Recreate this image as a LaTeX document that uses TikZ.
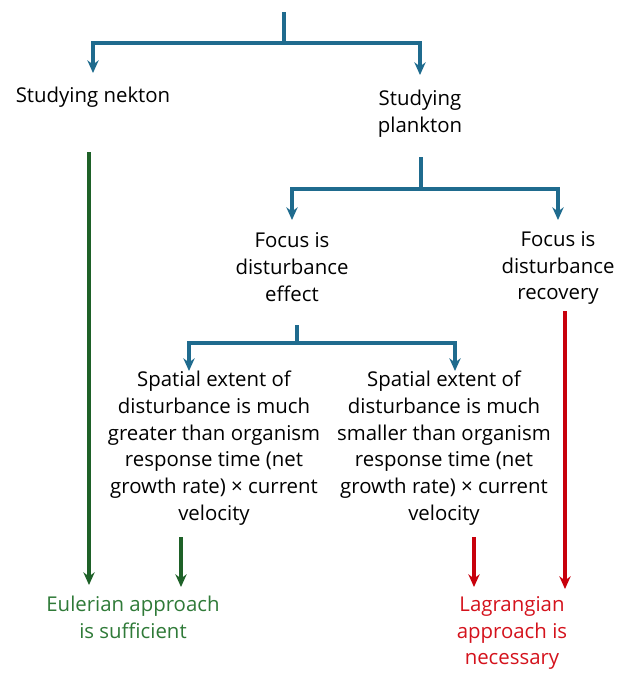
\documentclass[tikz,border=0pt]{standalone}
\usepackage{fontspec}
\setmainfont{Open Sans}
\usetikzlibrary{arrows.meta,calc}
\definecolor{treeblue}{HTML}{1F6B8E}
\definecolor{eulergreen}{HTML}{1E6128}
\definecolor{eulertext}{HTML}{2F7A38}
\definecolor{lagrred}{HTML}{C8000C}
\definecolor{lagrtext}{HTML}{D4121C}

\begin{document}
\begin{tikzpicture}[x=0.025cm, y=-0.025cm, line width=2.6pt,
  txt/.style={font=\fontsize{14.5}{19}\selectfont, align=center, inner sep=0pt, text=black},
  stem/.style={draw=treeblue},
  branch/.style={draw=treeblue, -{Stealth[length=9pt,width=8pt]}},
  euler/.style={draw=eulergreen, -{Stealth[length=9pt,width=8pt]}},
  lagr/.style={draw=lagrred, -{Stealth[length=9pt,width=8pt]}}
]
\useasboundingbox (0,0) rectangle (629,673);

% Text nodes
\node[txt] (nekton) at (93,97) {Studying nekton};
\node[txt] (plankton) at (420,114) {Studying\\plankton};
\node[txt] (effect) at (292,267) {Focus is\\disturbance\\effect};
\node[txt] (recovery) at (558,268) {Focus is\\disturbance\\recovery};
\node[txt] (greater) at (214,448) {Spatial extent of\\disturbance is much\\greater than organism\\response time (net\\growth rate) × current\\velocity};
\node[txt] (smaller) at (444,448) {Spatial extent of\\disturbance is much\\smaller than organism\\response time (net\\growth rate) × current\\velocity};
\node[txt, text=eulertext] (eulerian) at (133,617) {Eulerian approach\\is sufficient};
\node[txt, text=lagrtext] (lagrangian) at (512,633) {Lagrangian\\approach is\\necessary};

% Tree, first split
\coordinate (root) at (284,12);
\draw[stem] (root) -- ++(0,31) coordinate (fork1);
\draw[branch] (fork1) -| ($(nekton)+(0,-24)$);
\draw[branch] (fork1) -| ($(plankton)+(0,-39)$);

% Second split
\draw[stem] ($(plankton)+(1,43)$) -- ++(0,32) coordinate (fork2);
\draw[branch] (fork2) -| ($(effect)+(0,-47)$);
\draw[branch] (fork2) -| ($(recovery)+(0,-48)$);

% Third split
\draw[stem] ($(effect)+(5,58)$) -- ++(0,18) coordinate (fork3);
\draw[branch] (fork3) -| ($(greater)+(-25,-77)$);
\draw[branch] (fork3) -| ($(smaller)+(11,-77)$);

% Outcomes
\draw[euler] ($(nekton)+(-4,55)$) -- ($(eulerian)+(-44,-32)$);
\draw[euler] ($(greater)+(-33,89)$) -- ($(eulerian)+(48,-30)$);
\draw[lagr] ($(smaller)+(30,89)$) -- ($(lagrangian)+(-38,-46)$);
\draw[lagr] ($(recovery)+(7,43)$) -- ($(lagrangian)+(53,-44)$);

\end{tikzpicture}
\end{document}
